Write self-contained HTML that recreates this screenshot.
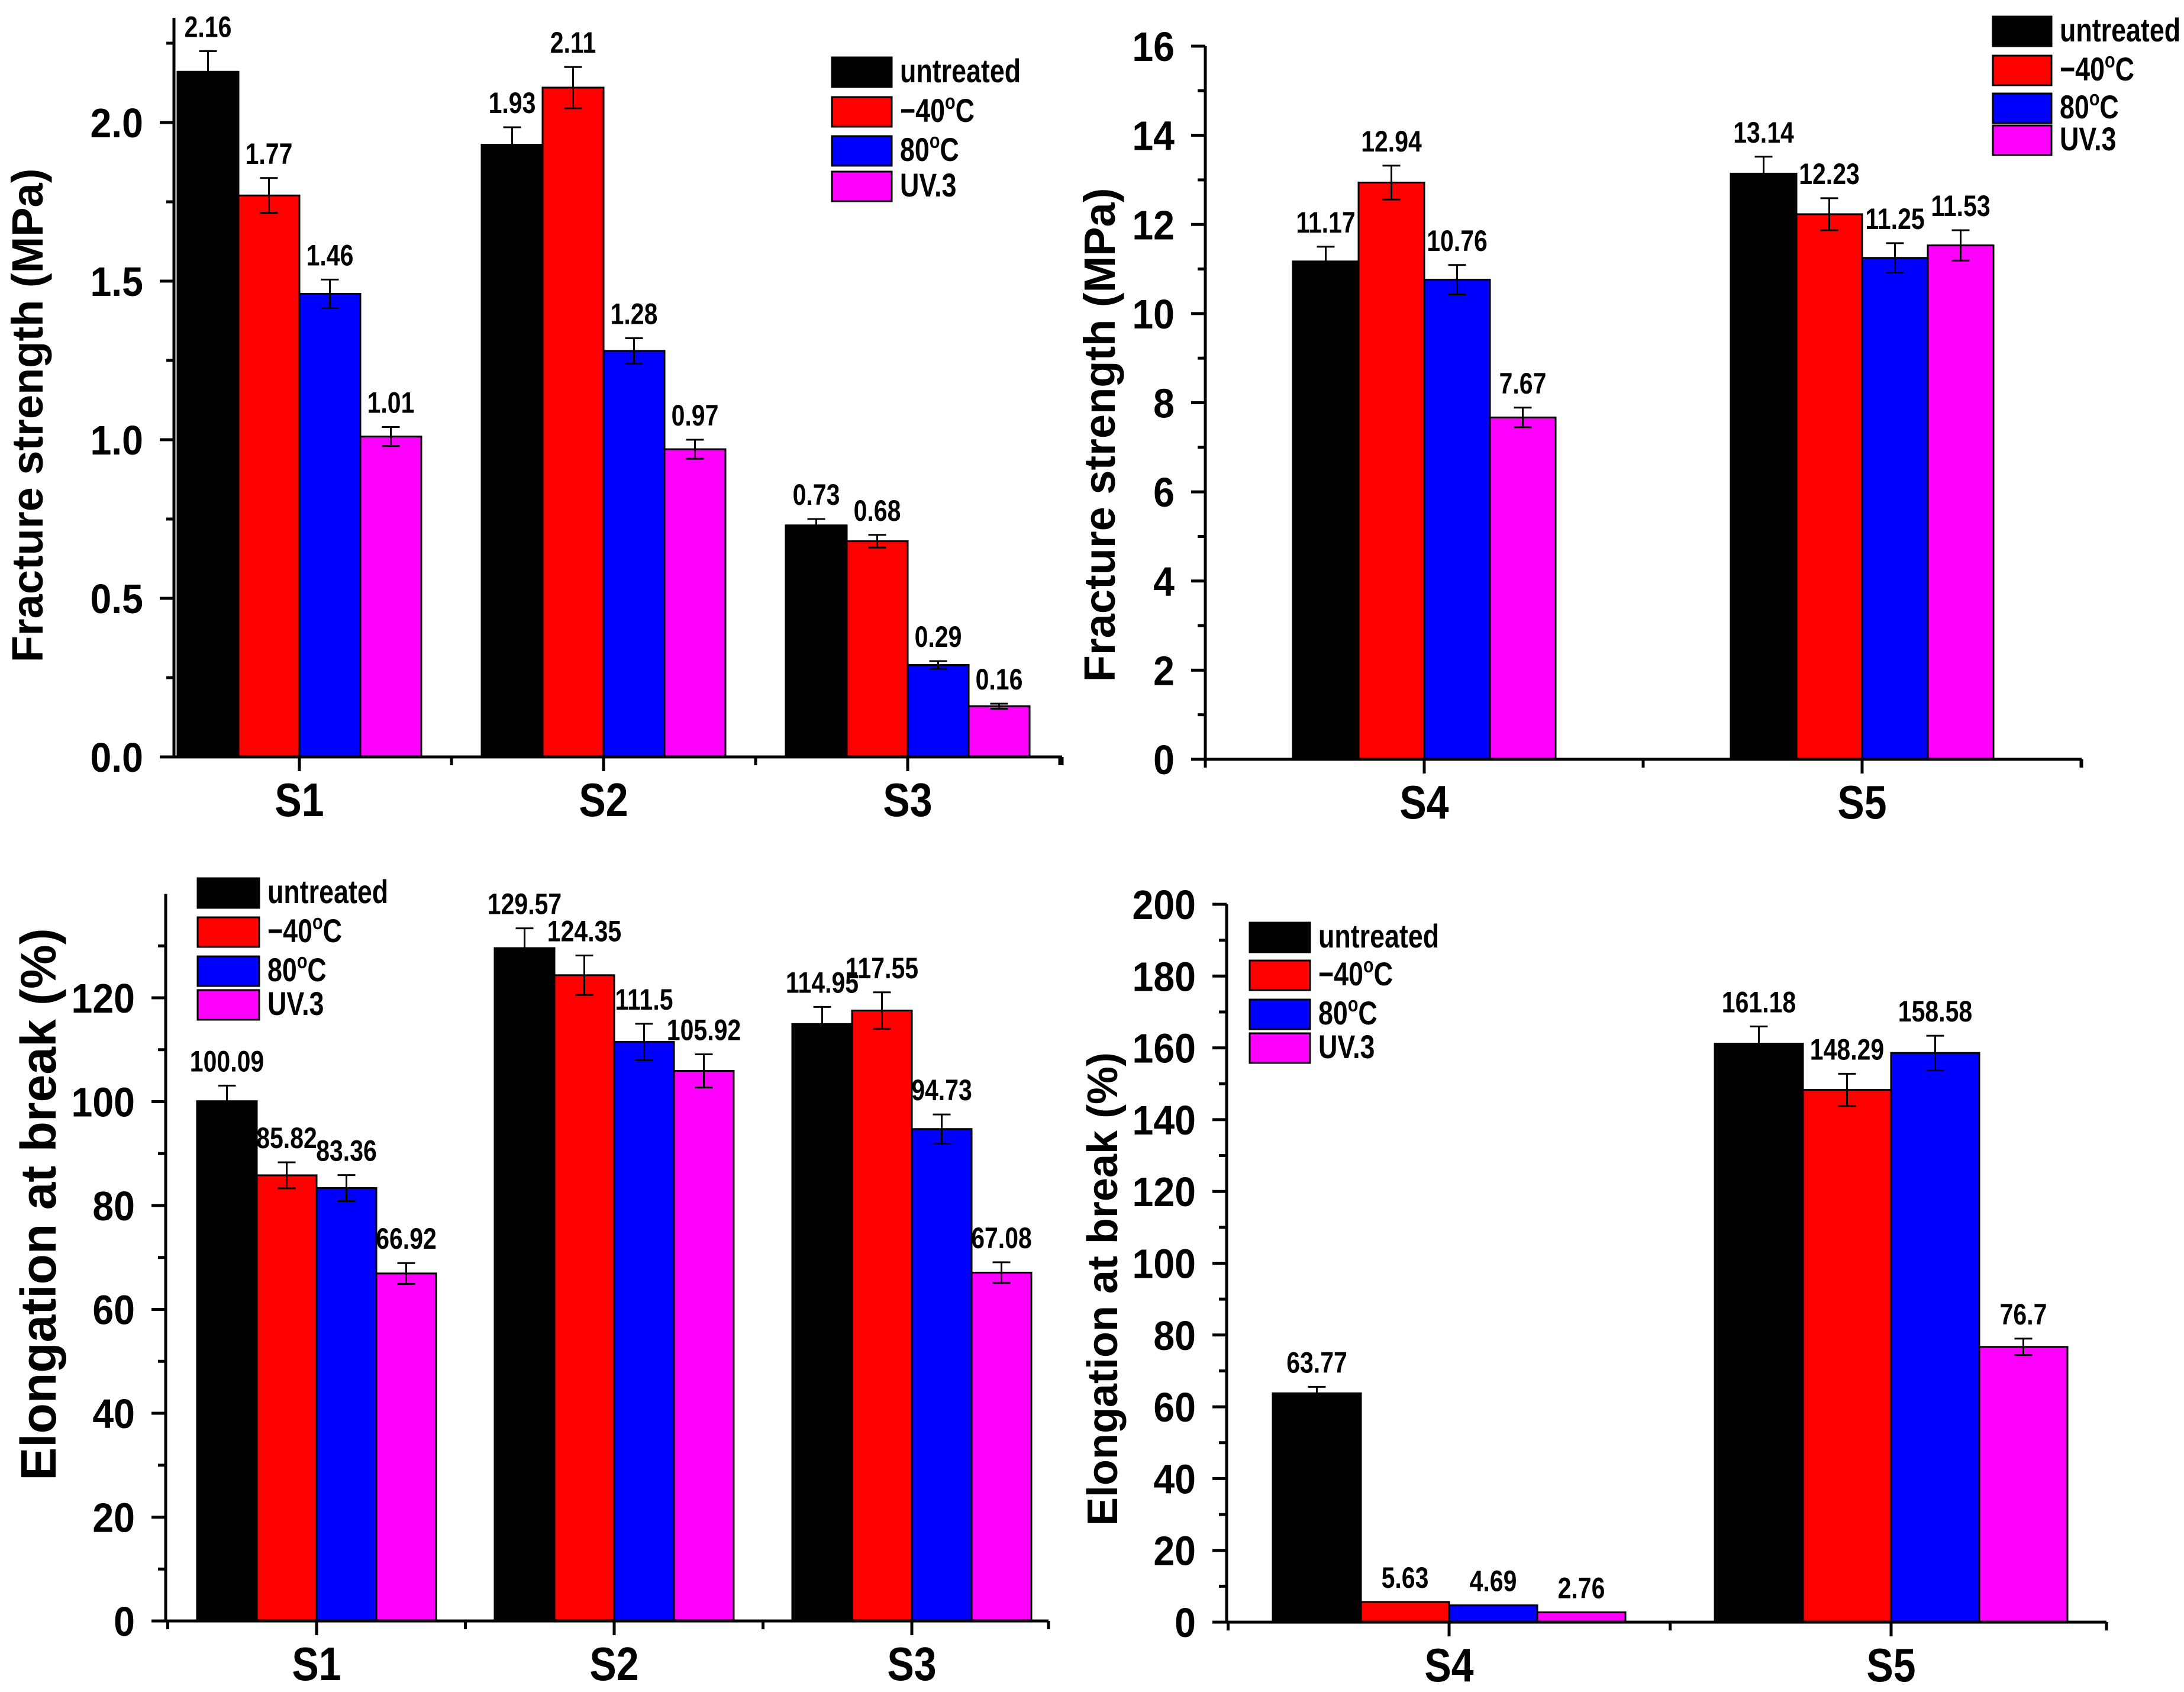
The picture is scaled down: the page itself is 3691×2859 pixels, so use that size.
<!DOCTYPE html>
<html><head><meta charset="utf-8">
<style>
html,body{margin:0;padding:0;background:#fff;}
svg{display:block;}
text{font-family:"Liberation Sans",sans-serif;font-weight:bold;fill:#000;}
</style></head>
<body>
<svg id="chart" width="3691" height="2859" viewBox="0 0 3691 2859" xmlns="http://www.w3.org/2000/svg"></svg>
<script>
const seriesNames = ["untreated", "-40C", "80C", "UV.3"];
const seriesColors = ["#000000", "#ff0000", "#0000ff", "#ff00ff"];

// Panel 1: fracture strength S1-S3
const p1Categories = ["S1", "S2", "S3"];
const p1Untreated = [2.16, 1.93, 0.73];
const p1Minus40 = [1.77, 2.11, 0.68];
const p1Heat80 = [1.46, 1.28, 0.29];
const p1UV3 = [1.01, 0.97, 0.16];
const p1ErrUntreated = [0.065, 0.055, 0.02];
const p1ErrMinus40 = [0.055, 0.065, 0.02];
const p1ErrHeat80 = [0.045, 0.04, 0.012];
const p1ErrUV3 = [0.03, 0.03, 0.008];
const p1Ticks = ["0.0", "0.5", "1.0", "1.5", "2.0"];
const p1Labels = ["2.16","1.93","0.73","1.77","2.11","0.68","1.46","1.28","0.29","1.01","0.97","0.16"];

// Panel 2: fracture strength S4-S5
const p2Categories = ["S4", "S5"];
const p2Untreated = [11.17, 13.14];
const p2Minus40 = [12.94, 12.23];
const p2Heat80 = [10.76, 11.25];
const p2UV3 = [7.67, 11.53];
const p2ErrUntreated = [0.33, 0.38];
const p2ErrMinus40 = [0.38, 0.36];
const p2ErrHeat80 = [0.33, 0.33];
const p2ErrUV3 = [0.22, 0.34];
const p2Ticks = ["0","2","4","6","8","10","12","14","16"];
const p2Labels = ["11.17","13.14","12.94","12.23","10.76","11.25","7.67","11.53"];

// Panel 3: elongation S1-S3
const p3Categories = ["S1", "S2", "S3"];
const p3Untreated = [100.09, 129.57, 114.95];
const p3Minus40 = [85.82, 124.35, 117.55];
const p3Heat80 = [83.36, 111.5, 94.73];
const p3UV3 = [66.92, 105.92, 67.08];
const p3ErrUntreated = [3.0, 3.8, 3.3];
const p3ErrMinus40 = [2.5, 3.8, 3.5];
const p3ErrHeat80 = [2.5, 3.5, 2.8];
const p3ErrUV3 = [2.0, 3.2, 2.0];
const p3Ticks = ["0","20","40","60","80","100","120"];
const p3Labels = ["100.09","129.57","114.95","85.82","124.35","117.55","83.36","111.5","94.73","66.92","105.92","67.08"];

// Panel 4: elongation S4-S5
const p4Categories = ["S4", "S5"];
const p4Untreated = [63.77, 161.18];
const p4Minus40 = [5.63, 148.29];
const p4Heat80 = [4.69, 158.58];
const p4UV3 = [2.76, 76.7];
const p4ErrUntreated = [1.8, 4.8];
const p4ErrMinus40 = [0, 4.5];
const p4ErrHeat80 = [0, 4.8];
const p4ErrUV3 = [0, 2.3];
const p4Ticks = ["0","20","40","60","80","100","120","140","160","180","200"];
const p4Labels = ["63.77","161.18","5.63","148.29","4.69","158.58","2.76","76.7"];

const NS = "http://www.w3.org/2000/svg";
const svg = document.getElementById("chart");
function mk(tag, attrs, parent) {
  const e = document.createElementNS(NS, tag);
  for (const k in attrs) e.setAttribute(k, attrs[k]);
  (parent || svg).appendChild(e);
  return e;
}
function ntext(parent, x, y, size, anchor, sq) {
  return mk("text", {x: 0, y: 0, "font-size": size, "text-anchor": anchor, transform: `translate(${x},${y}) scale(${sq},1)`}, parent);
}

function drawPanel(cfg) {
  const g = mk("g", {});
  
  
  const yS = v => cfg.yb - v * (cfg.yb - cfg.yref) / cfg.refVal;
  const xC = i => cfg.c0 + i * cfg.cs;
  const bw = cfg.bw;

  cfg.series.forEach((vals, s) => {
    vals.forEach((v, i) => {
      const x = xC(i) - 2 * bw + s * bw;
      const r = mk("rect", {x: x, y: yS(v), width: bw, height: yS(0) - yS(v), fill: seriesColors[s], stroke: "#000", "stroke-width": 3}, g);
      
      
      const e = cfg.errs[s][i];
      const cx = x + bw / 2;
      if (e > 0) {
        const eg = mk("g", {stroke: "#000", "stroke-width": 3}, g);
        
        
        mk("line", {x1: cx, x2: cx, y1: yS(v + e), y2: yS(v - e)}, eg);
        mk("line", {x1: cx - 15, x2: cx + 15, y1: yS(v + e), y2: yS(v + e)}, eg);
        mk("line", {x1: cx - 15, x2: cx + 15, y1: yS(v - e), y2: yS(v - e)}, eg);
      }
      const t = ntext(g, cx, yS(v + e) - 24, 50, "middle", 0.82);
      t.textContent = cfg.labels[s * vals.length + i];
      
      
    });
  });

  const ax = mk("g", {stroke: "#000", "stroke-width": 5}, g);
  
  
  mk("line", {x1: cfg.x0, x2: cfg.x0, y1: yS(cfg.ymax), y2: cfg.yb + 2}, ax);
  mk("line", {x1: cfg.x0 - 2, x2: cfg.x1, y1: cfg.yb, y2: cfg.yb}, ax);
  cfg.ticks.forEach((lab, k) => {
    const v = k * cfg.tickStep;
    mk("line", {x1: cfg.x0 - 24, x2: cfg.x0, y1: yS(v), y2: yS(v)}, ax);
    const t = ntext(g, cfg.x0 - 52, yS(v) + 25, 70, "end", 0.92);
    t.textContent = lab;
    
    
  });
  for (let v = cfg.tickStep / 2; v <= cfg.ymax + 1e-9; v += cfg.tickStep) {
    mk("line", {x1: cfg.x0 - 13, x2: cfg.x0, y1: yS(v), y2: yS(v)}, ax);
  }
  for (let i = 0; i <= cfg.cats.length; i++) {
    const x = xC(i) - cfg.cs / 2;
    if (x >= cfg.x0 - 1 && x <= cfg.x1 + 1) mk("line", {x1: x, x2: x, y1: cfg.yb, y2: cfg.yb + 14}, ax);
  }
  mk("line", {x1: cfg.x1, x2: cfg.x1, y1: cfg.yb, y2: cfg.yb + 14}, ax);
  cfg.cats.forEach((c, i) => {
    mk("line", {x1: xC(i), x2: xC(i), y1: cfg.yb, y2: cfg.yb + 24}, ax);
    const t = ntext(g, xC(i), cfg.yb + 100, 80, "middle", 0.85);
    t.textContent = c;
    
    
  });

  const yt = mk("text", {x: 0, y: 0, "text-anchor": "middle", "font-size": cfg.titleSize, transform: `translate(${cfg.titleX},${cfg.titleY}) rotate(-90)`}, g);
  yt.textContent = cfg.title;
  
  

  const lg = mk("g", {}, g);
  
  
  cfg.legRows.forEach((ry, s) => {
    const eg = mk("g", {}, lg);
    
    
    mk("rect", {x: cfg.legX, y: ry, width: cfg.legW, height: 50, fill: seriesColors[s], stroke: "#000", "stroke-width": 3}, eg);
    const t = ntext(eg, cfg.legX + cfg.legW + 14, ry + 42, 56, "start", 0.8);
    if (s === 1 || s === 2) {
      t.appendChild(document.createTextNode(s === 1 ? "\u221240" : "80"));
      const sup = mk("tspan", {"font-size": 36, dy: -22}, t); sup.textContent = "o";
      const c = mk("tspan", {dy: 22}, t); c.textContent = "C";
    } else {
      t.textContent = s === 0 ? "untreated" : "UV.3";
    }
  });
}

drawPanel({name: "panel-fracture-s1-s3", cats: p1Categories,
  series: [p1Untreated, p1Minus40, p1Heat80, p1UV3], errs: [p1ErrUntreated, p1ErrMinus40, p1ErrHeat80, p1ErrUV3],
  labels: p1Labels, ticks: p1Ticks, tickStep: 0.5, ymax: 2.33,
  x0: 294, x1: 1795, yb: 1279, yref: 207, refVal: 2.0, c0: 506, cs: 514, bw: 103,
  title: "Fracture strength (MPa)", titleSize: 74, titleX: 72, titleY: 702,
  legX: 1406, legW: 101, legRows: [97, 164, 230, 290]});
drawPanel({name: "panel-fracture-s4-s5", cats: p2Categories,
  series: [p2Untreated, p2Minus40, p2Heat80, p2UV3], errs: [p2ErrUntreated, p2ErrMinus40, p2ErrHeat80, p2ErrUV3],
  labels: p2Labels, ticks: p2Ticks, tickStep: 2, ymax: 16,
  x0: 2037, x1: 3518, yb: 1283, yref: 78, refVal: 16, c0: 2407, cs: 740, bw: 111,
  title: "Fracture strength (MPa)", titleSize: 74, titleX: 1884, titleY: 735,
  legX: 3368, legW: 99, legRows: [28, 94, 158, 212]});
drawPanel({name: "panel-elongation-s1-s3", cats: p3Categories,
  series: [p3Untreated, p3Minus40, p3Heat80, p3UV3], errs: [p3ErrUntreated, p3ErrMinus40, p3ErrHeat80, p3ErrUV3],
  labels: p3Labels, ticks: p3Ticks, tickStep: 20, ymax: 140,
  x0: 280, x1: 1772, yb: 2739, yref: 1686, refVal: 120, c0: 535, cs: 503, bw: 101,
  title: "Elongation at break (%)", titleSize: 84, titleX: 94, titleY: 2035,
  legX: 334, legW: 104, legRows: [1484, 1550, 1616, 1673]});
drawPanel({name: "panel-elongation-s4-s5", cats: p4Categories,
  series: [p4Untreated, p4Minus40, p4Heat80, p4UV3], errs: [p4ErrUntreated, p4ErrMinus40, p4ErrHeat80, p4ErrUV3],
  labels: p4Labels, ticks: p4Ticks, tickStep: 20, ymax: 200,
  x0: 2073, x1: 3560, yb: 2741, yref: 1528, refVal: 200, c0: 2449, cs: 747, bw: 149,
  title: "Elongation at break (%)", titleSize: 72, titleX: 1888, titleY: 2178,
  legX: 2112, legW: 102, legRows: [1559, 1623, 1689, 1746]});
</script>
</body></html>
